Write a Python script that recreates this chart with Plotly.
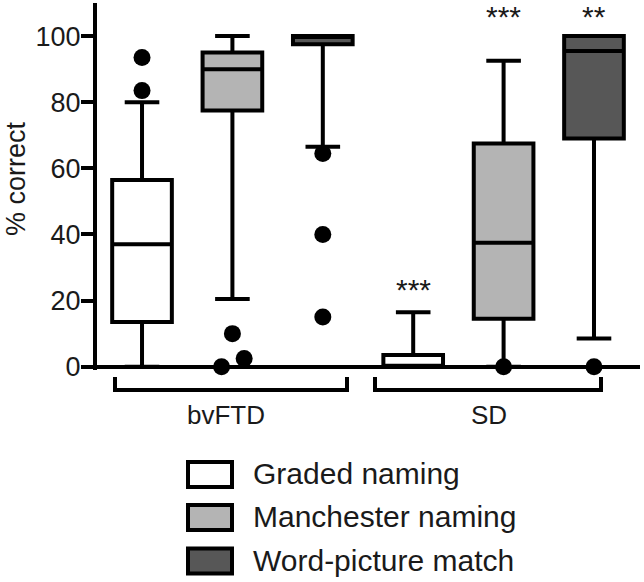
import plotly.graph_objects as go

# ---------------- data ----------------
groups = ["bvFTD", "SD"]
tests = ["Graded naming", "Manchester naming", "Word-picture match"]
fills = ["#ffffff", "#b4b4b4", "#575757"]

# box positions: group-major order (bvFTD: tests 1-3, SD: tests 1-3)
positions = [1, 2, 3, 4, 5, 6]
box_test = [0, 1, 2, 0, 1, 2]
q1 = [13.5, 77.5, 97.5, 0.0, 14.5, 69.0]
median = [37.0, 90.0, 100.0, 0.0, 37.5, 95.5]
q3 = [56.5, 95.0, 100.0, 3.5, 67.5, 100.0]
lowerfence = [0.0, 20.5, 66.5, 0.0, 0.0, 8.5]
upperfence = [80.0, 100.0, 100.0, 16.5, 92.5, 100.0]

# outliers
outlier_box = [1, 1, 2, 2, 2, 3, 3, 3, 5, 6]
outlier_val = [93.5, 83.5, 10.0, 2.5, 0.0, 64.5, 40.0, 15.0, 0.0, 0.0]
outlier_jitter = [0, 0, 0, 0.13, -0.12, 0, 0, 0, 0, 0]

# significance markers
stars_pos = [4, 5, 6]
stars_text = ["***", "***", "**"]
stars_y = [24.8, 107.4, 107.4]

y_ticks = [0, 20, 40, 60, 80, 100]

# ---------------- layout geometry (pixels) ----------------
W, H = 644, 582
ML, MR, MT, MB = 97, 4, 3, 212
PW = W - ML - MR
PH = H - MT - MB

def px(x):
    return (x - ML) / PW

def py(y):
    return (H - MB - y) / PH

FONT = "Liberation Sans, Arial, Helvetica, sans-serif"
TXT = "#1a1a1a"

fig = go.Figure()

for t in range(3):
    idx = [i for i in range(6) if box_test[i] == t]
    fig.add_trace(go.Box(
        x=[positions[i] for i in idx],
        q1=[q1[i] for i in idx],
        median=[median[i] for i in idx],
        q3=[q3[i] for i in idx],
        lowerfence=[lowerfence[i] for i in idx],
        upperfence=[upperfence[i] for i in idx],
        name=tests[t],
        fillcolor=fills[t],
        line=dict(color="black", width=4),
        whiskerwidth=0.58,
        width=0.66,
        boxpoints=False,
        showlegend=False,
    ))

fig.add_trace(go.Scatter(
    x=[b + j for b, j in zip(outlier_box, outlier_jitter)],
    y=outlier_val,
    mode="markers",
    marker=dict(color="black", size=17),
    cliponaxis=False,
    showlegend=False,
))

for xp, tx, yv in zip(stars_pos, stars_text, stars_y):
    fig.add_annotation(x=xp, y=yv, xref="x", yref="y", text=tx, showarrow=False,
                       yshift=-5, font=dict(family=FONT, size=30, color=TXT))

shapes = []
# group brackets
brackets = [(115, 347), (375, 601)]
for (x0, x1), g, cx in zip(brackets, groups, [226, 489]):
    shapes.append(dict(type="path", xref="paper", yref="paper",
                       path=f"M {px(x0)} {py(377)} L {px(x0)} {py(390)} L {px(x1)} {py(390)} L {px(x1)} {py(377)}",
                       line=dict(color="black", width=4)))
    fig.add_annotation(x=px(cx), y=py(415), xref="paper", yref="paper", text=g,
                       showarrow=False, xanchor="center", yanchor="middle",
                       font=dict(family=FONT, size=26, color=TXT))

# legend
leg_y = [474.5, 517.5, 561]
for t in range(3):
    yc = leg_y[t]
    shapes.append(dict(type="rect", xref="paper", yref="paper",
                       x0=px(188), x1=px(232), y0=py(yc - 12.5), y1=py(yc + 12.5),
                       fillcolor=fills[t], line=dict(color="black", width=4)))
    fig.add_annotation(x=px(251), y=py(yc - 1), xref="paper", yref="paper", text=tests[t],
                       showarrow=False, xanchor="left", yanchor="middle",
                       font=dict(family=FONT, size=30, color=TXT))

# y title
fig.add_annotation(x=px(16), y=py(179), xref="paper", yref="paper", text="% correct",
                   textangle=-90, showarrow=False, xanchor="center", yanchor="middle",
                   font=dict(family=FONT, size=27, color=TXT))

fig.update_layout(
    width=W, height=H,
    margin=dict(l=ML, r=MR, t=MT, b=MB, pad=0),
    paper_bgcolor="white", plot_bgcolor="white",
    boxmode="overlay",
    shapes=shapes,
    font=dict(family=FONT, color=TXT),
    xaxis=dict(range=[0.502, 6.509], showticklabels=False, ticks="", showgrid=False,
               zeroline=False, showline=False, fixedrange=True),
    yaxis=dict(range=[-1, 110], tickvals=y_ticks, ticks="outside", ticklen=12,
               tickwidth=4, tickcolor="black", showgrid=False,
               showline=True, linewidth=4, linecolor="black",
               zeroline=True, zerolinewidth=4, zerolinecolor="black",
               ticklabelstandoff=-5,
               tickfont=dict(family=FONT, size=27, color=TXT), fixedrange=True),
)

fig.write_html("out.html", config={"displayModeBar": False},
               post_script="document.body.style.margin='0px';document.body.style.overflow='hidden';")
